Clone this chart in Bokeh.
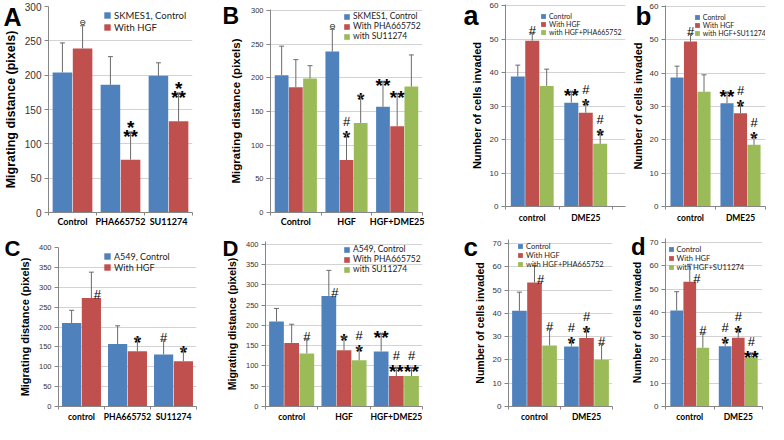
from bokeh.plotting import figure
from bokeh.models import (ColumnDataSource, Range1d, FixedTicker, Legend, LegendItem,
                          Whisker, TeeHead)
from bokeh.layouts import column, row
from bokeh.embed import file_html
from bokeh.resources import INLINE
from bokeh.core.properties import value

COLORS = ["#4F81BD", "#C0504D", "#9BBB59"]

# ---------------- data ----------------
A_cats = ["Control", "PHA665752", "SU11274"]
A_series = ["SKMES1, Control", "With HGF"]
A_vals = [[204, 186, 199], [239, 77, 133]]
A_errs = [[43, 41, 19], [33, 40, 41]]
A_marks = [(0, 1, "err", 0, ["⊖"]), (1, 1, "err", 0, ["**", "*"]), (2, 1, "err", 0, ["**", "*"])]

B_cats = ["Control", "HGF", "HGF+DME25"]
B_series = ["SKMES1, Control", "With PHA665752", "with SU11274"]
B_vals = [[204, 239, 157], [186, 78, 128], [199, 133, 187]]
B_errs = [[43, 33, 37], [41, 39, 48], [19, 41, 47]]
B_marks = [(1, 0, "err", 0, ["⊖"]), (1, 1, "err", 0, ["*", "#"]), (1, 2, "err", 0, ["*"]),
           (2, 0, "err", 0, ["**"]), (2, 1, "err", 0, ["**"])]

a_cats = ["control", "DME25"]
a_series = ["Control", "With HGF", "with HGF+PHA665752"]
a_vals = [[38.8, 31.0], [49.5, 28.0], [36.0, 18.7]]
a_errs = [[3.4, 3.3], [2.1, 3.2], [5.0, 3.8]]
a_marks = [(0, 1, "err", 0, ["#"]), (1, 0, "err", 0, ["**"]), (1, 1, "err", 0, ["*", "#"]),
           (1, 2, "err", 0, ["*", "#"])]

b_cats = ["control", "DME25"]
b_series = ["Control", "With HGF", "with HGF+SU11274"]
b_vals = [[38.7, 31.0], [49.5, 28.0], [34.4, 18.5]]
b_errs = [[3.4, 3.3], [2.1, 3.1], [5.1, 3.1]]
b_marks = [(0, 1, "err", 0, ["#"]), (1, 0, "err", 0, ["**"]), (1, 1, "err", 0, ["*", "#"]),
           (1, 2, "err", 0, ["*", "#"])]

C_cats = ["control", "PHA665752", "SU11274"]
C_series = ["A549, Control", "With HGF"]
C_vals = [[210, 157, 131], [273, 139, 114]]
C_errs = [[32, 46, 34], [65, 33, 31]]
C_marks = [(0, 1, "bar", 6, ["#"]), (1, 1, "err", 0, ["*"]), (2, 0, "err", 0, ["#"]),
           (2, 1, "err", 0, ["*"])]

D_cats = ["control", "HGF", "HGF+DME25"]
D_series = ["A549, Control", "With PHA665752", "with SU11274"]
D_vals = [[210, 273, 136], [157, 139, 75], [131, 114, 75]]
D_errs = [[32, 63, 44], [46, 33, 21], [34, 31, 21]]
D_marks = [(0, 2, "err", 0, ["#"]), (1, 0, "bar", 6, ["#"]), (1, 1, "err", 0, ["*"]),
           (1, 2, "err", 0, ["*", "#"]), (2, 0, "err", 0, ["**"]),
           (2, 1, "err", 0, ["**", "#"]), (2, 2, "err", 0, ["**", "#"])]

c_cats = ["control", "DME25"]
c_series = ["Control", "With HGF", "with HGF+PHA665752"]
c_vals = [[41.1, 25.8], [53.3, 29.4], [26.2, 20.1]]
c_errs = [[8.0, 2.9], [7.3, 3.9], [7.0, 6.5]]
c_marks = [(0, 1, "bar", 6, ["#"]), (0, 2, "err", 0, ["#"]), (1, 0, "err", 0, ["*", "#"]),
           (1, 1, "err", 0, ["*", "#"]), (1, 2, "err", 0, ["#"])]

d_cats = ["control", "DME25"]
d_series = ["Control", "With HGF", "with HGF+SU11274"]
d_vals = [[41.0, 25.7], [53.2, 29.3], [25.1, 20.9]]
d_errs = [[8.0, 2.9], [7.5, 4.0], [5.9, 1.9]]
d_marks = [(0, 1, "bar", 7, ["#"]), (0, 2, "err", 0, ["#"]), (1, 0, "err", 0, ["*", "#"]),
           (1, 1, "err", 0, ["*", "#"]), (1, 2, "err", 0, ["**", "#"])]

MIG = "Migrating distance (pixels)"
NUM = "Number of cells invaded"

# ---------------- geometry helpers (reference px -> page px) ----------------
def MX(x):
    return x if x <= 616 else 616 + (x - 616) * (768 - 616) / (784 - 616)


def MY(y):
    return y if y <= 229 else 229 + (y - 229) * (424 - 229) / (440 - 229)


AXC = "#868686"
MARK_FONTS = {
    "star": dict(font="Liberation Sans", size=19, style="bold", vb=7.0, vh=6.0),
    "hash": dict(font="Liberation Sans", size=13, style="normal", vb=0.0, vh=9.3),
    "theta": dict(font="DejaVu Sans", size=8, style="normal", vb=0.0, vh=6.0),
}


def mark_kind(t):
    if "*" in t:
        return "star"
    if t == "#":
        return "hash"
    return "theta"


def build(letter, cats, series, vals, errs, marks, ymax, ystep, ytitle,
          ox, oy, w, h, fr_l, fr_r, fr_t, fr_b, bar_w,
          title_fs, title_so, tick_fs, cat_fs, cat_so,
          leg_fs, leg_sq, leg_x, leg_y, leg_pitch,
          let_fs, let_left, let_base, ext_r=0, ext_t=0):
    # frame edges given in reference px; ext_r / ext_t widen the frame (page px)
    L, T, Bm = MX(fr_l), MY(fr_t), MY(fr_b)
    R0 = MX(fr_r)
    R = R0 + ext_r
    T_ext = T - ext_t
    bl = int(round(L - ox))
    br = int(round(ox + w - R))
    bt = int(round(T_ext - oy))
    bb = int(round(oy + h - Bm))
    n = len(cats)
    ns = len(series)
    x_end = n * (R - L) / (R0 - L)
    y_end = ymax * (Bm - T_ext) / (Bm - T)
    p = figure(width=w, height=h, x_range=Range1d(0, x_end), y_range=Range1d(0, y_end),
               output_backend="svg", toolbar_location=None,
               min_border_left=bl, min_border_right=br, min_border_top=bt, min_border_bottom=bb)
    try:
        p.frame_align = False
    except Exception:
        pass
    p.outline_line_color = None
    p.background_fill_color = "white"
    p.border_fill_color = "white"

    items = []
    for s in range(ns):
        xs = [i + 0.5 + (s - (ns - 1) / 2) * bar_w for i in range(n)]
        src = ColumnDataSource(dict(x=xs, top=vals[s], lo=vals[s],
                                    hi=[v + e for v, e in zip(vals[s], errs[s])]))
        r = p.vbar(x="x", top="top", width=bar_w * 0.97, source=src,
                   fill_color=COLORS[s], line_color=None)
        items.append(LegendItem(label=series[s], renderers=[r]))
        wk = Whisker(base="x", lower="lo", upper="hi", source=src, level="annotation",
                     line_color="#6a6a6a", line_width=1,
                     upper_head=TeeHead(size=5, line_color="#6a6a6a", line_width=1),
                     lower_head=None)
        p.add_layout(wk)

    groups = {k: dict(x=[], y=[], text=[], xo=[], yo=[]) for k in MARK_FONTS}
    for (ci, si, anchor, dx, stack) in marks:
        x = ci + 0.5 + (si - (ns - 1) / 2) * bar_w
        base = vals[si][ci] + (errs[si][ci] if anchor == "err" else 0)
        cur = 3
        for t in stack:
            k = mark_kind(t)
            fs = MARK_FONTS[k]
            g = groups[k]
            g["x"].append(x)
            g["y"].append(base)
            g["text"].append(t)
            g["xo"].append(dx)
            g["yo"].append(fs["vb"] - cur)
            cur += fs["vh"] + 3
    for k, g in groups.items():
        if g["x"]:
            fs = MARK_FONTS[k]
            p.text(x="x", y="y", text="text", x_offset="xo", y_offset="yo",
                   source=ColumnDataSource(g), text_font=value(fs["font"]),
                   text_font_size=value(f'{fs["size"]}px'), text_font_style=value(fs["style"]),
                   text_align="center", text_baseline="alphabetic", text_color="black")

    yax = p.yaxis[0]
    yax.ticker = FixedTicker(ticks=list(range(0, ymax + 1, ystep)))
    yax.axis_label = ytitle
    yax.axis_label_text_font = "Liberation Sans"
    yax.axis_label_text_font_size = f"{title_fs}px"
    yax.axis_label_text_font_style = "bold"
    yax.axis_label_text_color = "black"
    yax.axis_label_standoff = title_so
    yax.major_label_text_font = "Liberation Sans"
    yax.major_label_text_font_size = f"{tick_fs}px"
    yax.major_label_text_color = "#333333"
    yax.major_label_standoff = 3
    yax.major_tick_out = 4
    yax.major_tick_in = 0
    yax.minor_tick_out = 0
    yax.minor_tick_in = 0
    yax.axis_line_color = AXC
    yax.major_tick_line_color = AXC
    p.ygrid.grid_line_color = "#d3d3d3"
    p.xgrid.visible = False

    xax = p.xaxis[0]
    xax.axis_label = None
    centers = [i + 0.5 for i in range(n)]
    xax.ticker = FixedTicker(ticks=centers, minor_ticks=list(range(n + 1)))
    xax.major_label_overrides = {c: cats[i] for i, c in enumerate(centers)}
    xax.major_tick_out = 0
    xax.major_tick_in = 0
    xax.minor_tick_out = 3
    xax.minor_tick_in = 0
    xax.minor_tick_line_color = AXC
    xax.axis_line_color = AXC
    xax.major_label_text_font = "Lato"
    xax.major_label_text_font_style = "bold"
    xax.major_label_text_font_size = f"{cat_fs}px"
    xax.major_label_text_color = "black"
    xax.major_label_standoff = cat_so

    frame_left = ox + bl
    frame_top = oy + bt
    frame_bottom = oy + h - bb

    # legend: location is the bottom-left corner, px from the frame's bottom-left
    row_h = 1.2 * leg_fs + 2.5
    sp = int(round(leg_pitch - row_h))
    leg_h = ns * row_h + (ns - 1) * sp
    top_wanted = max(MY(leg_y) - (row_h - leg_sq) / 2, frame_top + 1)
    lx = MX(leg_x) - frame_left
    ly = frame_bottom - top_wanted - leg_h
    leg = Legend(items=items, location=(lx, ly), padding=0, margin=0, spacing=sp,
                 label_height=1, glyph_height=leg_sq, glyph_width=leg_sq,
                 label_standoff=3, border_line_color=None, background_fill_alpha=0,
                 label_text_font="Lato", label_text_font_size=f"{leg_fs}px",
                 label_text_color="#222222")
    p.add_layout(leg)

    # panel letter as the plot title, pulled into the top-left corner
    descent = 0.21 * let_fs
    p.title.text = letter
    p.title.align = "left"
    p.title.vertical_align = "bottom"
    p.title.text_font = "Liberation Sans"
    p.title.text_font_style = "bold"
    p.title.text_font_size = f"{let_fs}px"
    p.title.text_color = "black"
    p.title.offset = MX(let_left) - frame_left
    p.title.standoff = 2 * (frame_top - descent - MY(let_base))
    return p


# row 1 columns: 0-198, 198-425, 425-628, 628-768 ; row 2: 0-198, 198-425, 425-616, 616-768
pA = build("A", A_cats, A_series, A_vals, A_errs, A_marks, 300, 50, MIG,
           0, 0, 198, 229, 48, 192, 6, 217, 0.42,
           12.5, 4, 10, 9, 0, 9.5, 8, 103, 12, 15, 25, 3, 25)
pB = build("B", B_cats, B_series, B_vals, B_errs, B_marks, 300, 50, MIG,
           198, 0, 227, 229, 270, 422, 10, 215, 0.28,
           11.5, 6, 7.5, 9, 0, 8.5, 7, 343, 10, 11, 23, 222, 24, ext_t=1)
pa = build("a", a_cats, a_series, a_vals, a_errs, a_marks, 60, 10, NUM,
           425, 0, 203, 229, 505, 612, 5, 206, 0.27,
           11, 4, 8, 8.5, 3, 7, 6, 540, 5, 10, 27, 463, 25, ext_r=13, ext_t=1)
pb = build("b", b_cats, b_series, b_vals, b_errs, b_marks, 60, 10, NUM,
           628, 0, 140, 229, 670, 781, 6, 206, 0.27,
           11, 3, 8, 8.5, 3, 7, 6, 702, 6, 10, 26, 637, 25, ext_t=1)
pC = build("C", C_cats, C_series, C_vals, C_errs, C_marks, 400, 50, MIG,
           0, 229, 198, 195, 58, 196, 249, 425, 0.43,
           11, 5, 7.5, 8.5, 2, 9, 8, 103, 256, 12, 22, 4, 258)
pD = build("D", D_cats, D_series, D_vals, D_errs, D_marks, 400, 50, MIG,
           198, 229, 227, 195, 265, 422, 245, 425, 0.29,
           10.5, 5, 7.5, 8.5, 2, 8.5, 7, 343, 244, 11.5, 22, 222, 258, ext_t=3)
pc = build("c", c_cats, c_series, c_vals, c_errs, c_marks, 70, 10, NUM,
           425, 229, 191, 195, 508, 612, 244, 421, 0.29,
           10.5, 4, 8, 8.5, 2, 7.5, 6, 517, 241, 8.5, 26, 463, 258, ext_t=4)
pd_ = build("d", d_cats, d_series, d_vals, d_errs, d_marks, 70, 10, NUM,
            616, 229, 152, 195, 670, 777, 243, 420, 0.27,
            10.5, 4, 8, 8.5, 2, 7.5, 6, 673, 241, 10.5, 24, 632, 257, ext_t=4)

layout = column(row(pA, pB, pa, pb), row(pC, pD, pc, pd_))
open("out.html", "w").write(file_html(layout, INLINE, "figure"))
